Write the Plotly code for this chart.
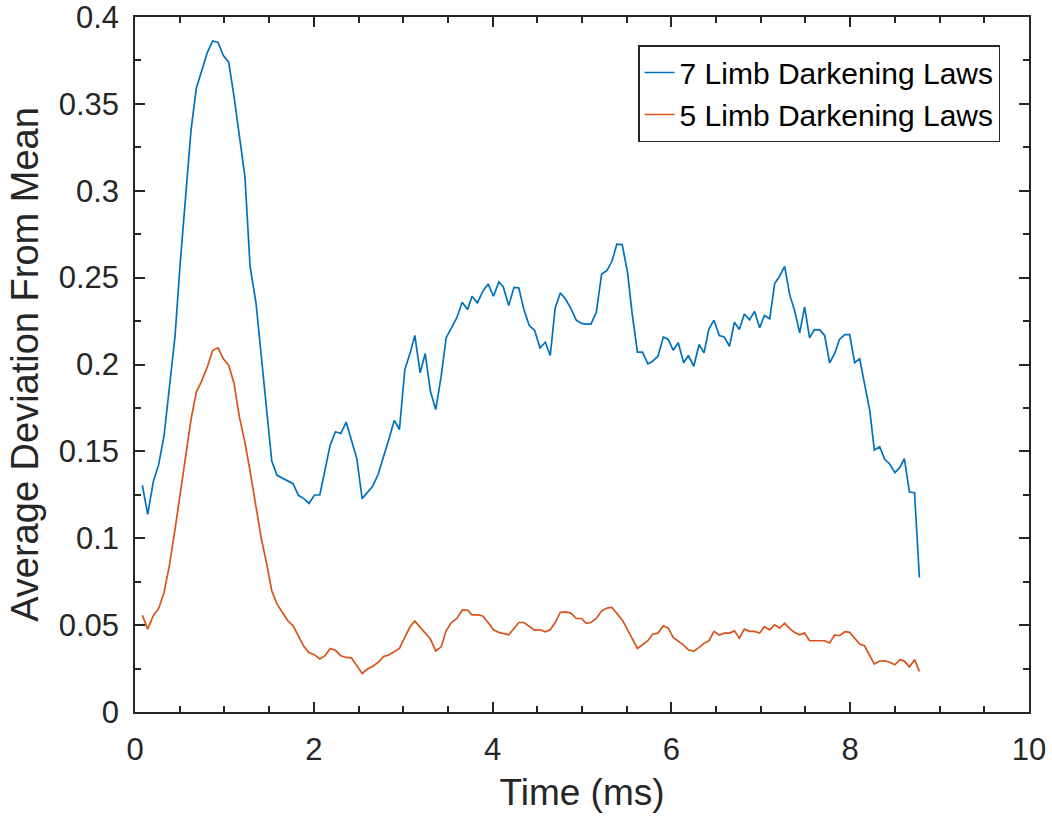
import plotly.graph_objects as go

time_ms = [0.082, 0.142, 0.205, 0.265, 0.325, 0.384, 0.448, 0.505, 0.567, 0.627,
           0.686, 0.745, 0.81, 0.868, 0.929, 0.988, 1.048, 1.108, 1.166, 1.23,
           1.287, 1.354, 1.414, 1.474, 1.53, 1.589, 1.649, 1.709, 1.768, 1.828,
           1.888, 1.947, 2.007, 2.067, 2.127, 2.182, 2.242, 2.302, 2.362, 2.421,
           2.481, 2.541, 2.60, 2.66, 2.72, 2.78, 2.839, 2.90, 2.958, 3.018,
           3.078, 3.13, 3.19, 3.246, 3.304, 3.364, 3.425, 3.48, 3.539, 3.60,
           3.66, 3.72, 3.77, 3.83, 3.89, 3.95, 4.01, 4.07, 4.12, 4.18,
           4.24, 4.293, 4.35, 4.41, 4.47, 4.53, 4.59, 4.645, 4.70, 4.757,
           4.816, 4.876, 4.936, 4.995, 5.048, 5.10, 5.16, 5.22, 5.28, 5.335,
           5.39, 5.45, 5.51, 5.56, 5.62, 5.677, 5.737, 5.79, 5.85, 5.91,
           5.965, 6.02, 6.077, 6.137, 6.19, 6.25, 6.31, 6.365, 6.42, 6.476,
           6.536, 6.59, 6.65, 6.705, 6.76, 6.816, 6.874, 6.93, 6.987, 7.04,
           7.10, 7.155, 7.21, 7.267, 7.323, 7.38, 7.435, 7.49, 7.546, 7.60,
           7.66, 7.714, 7.77, 7.826, 7.88, 7.94, 7.994, 8.05, 8.106, 8.16,
           8.22, 8.27, 8.33, 8.386, 8.44, 8.50, 8.554, 8.606, 8.663, 8.72,
           8.774]

laws7 = [0.1305, 0.1138, 0.1326, 0.1425, 0.159, 0.1876, 0.2163, 0.258, 0.2987, 0.335,
         0.359, 0.3695, 0.3797, 0.3862, 0.3854, 0.3778, 0.374, 0.3542, 0.3312, 0.308,
         0.2565, 0.2352, 0.2042, 0.1734, 0.1444, 0.1362, 0.1345, 0.1332, 0.1314, 0.1247,
         0.1228, 0.1201, 0.1249, 0.1249, 0.1406, 0.1534, 0.1613, 0.1603, 0.1669, 0.1569,
         0.1458, 0.1228, 0.1262, 0.1301, 0.1368, 0.1464, 0.1569, 0.1678, 0.1626, 0.1971,
         0.2067, 0.2167, 0.1952, 0.2063, 0.1847, 0.1741, 0.1933, 0.2153, 0.2211, 0.2269,
         0.2358, 0.2316, 0.2393, 0.2355, 0.2421, 0.2464, 0.2393, 0.2475, 0.2446, 0.2339,
         0.2444, 0.2441, 0.2316, 0.2224, 0.2197, 0.2096, 0.2128, 0.2052, 0.2326, 0.2412,
         0.2377, 0.2322, 0.2255, 0.2237, 0.2233, 0.2233, 0.2301, 0.2521, 0.2542, 0.2594,
         0.2693, 0.269, 0.2527, 0.2297, 0.2071, 0.2071, 0.2004, 0.2019, 0.2048, 0.2159,
         0.2144, 0.2082, 0.2125, 0.201, 0.2052, 0.199, 0.2115, 0.2067, 0.2205, 0.2255,
         0.2167, 0.2159, 0.2105, 0.2243, 0.2201, 0.2291, 0.2257, 0.2306, 0.2211, 0.2282,
         0.2263, 0.2466, 0.2508, 0.2565, 0.2402, 0.2306, 0.2182, 0.2332, 0.2153, 0.2201,
         0.2199, 0.2167, 0.201, 0.2063, 0.2144, 0.2172, 0.2172, 0.201, 0.2033, 0.1885,
         0.1732, 0.1508, 0.1527, 0.1454, 0.1429, 0.1378, 0.1406, 0.1458, 0.1266, 0.1262,
         0.0774]

laws5 = [0.0557, 0.0477, 0.0554, 0.0596, 0.0688, 0.0841, 0.1052, 0.1262, 0.1473, 0.1684,
         0.1841, 0.1904, 0.1987, 0.208, 0.2096, 0.2033, 0.1996, 0.1891, 0.1703, 0.155,
         0.1387, 0.1186, 0.0994, 0.0851, 0.0697, 0.0621, 0.0573, 0.0525, 0.0496, 0.0435,
         0.0378, 0.0341, 0.033, 0.0305, 0.0324, 0.0366, 0.0355, 0.0324, 0.0314, 0.0312,
         0.0263, 0.0222, 0.0247, 0.0263, 0.0286, 0.032, 0.0328, 0.0347, 0.0366, 0.0429,
         0.0492, 0.0523, 0.0487, 0.0458, 0.042, 0.0352, 0.0375, 0.0467, 0.0515, 0.0538,
         0.0586, 0.0586, 0.0559, 0.0559, 0.0553, 0.0515, 0.0473, 0.0458, 0.0452, 0.0444,
         0.0481, 0.0515, 0.0515, 0.0492, 0.0471, 0.0473, 0.0462, 0.0473, 0.0515, 0.0573,
         0.0576, 0.0569, 0.0538, 0.0538, 0.051, 0.0515, 0.0538, 0.0582, 0.0598, 0.0602,
         0.0567, 0.053, 0.0473, 0.042, 0.0366, 0.0387, 0.041, 0.0448, 0.0454, 0.0496,
         0.0483, 0.0429, 0.0406, 0.0385, 0.0358, 0.0349, 0.0372, 0.0395, 0.041, 0.0464,
         0.0443, 0.0454, 0.0454, 0.0467, 0.0425, 0.0477, 0.0464, 0.0464, 0.0454, 0.049,
         0.0473, 0.0502, 0.0483, 0.0511, 0.048, 0.0458, 0.0444, 0.0454, 0.041, 0.041,
         0.041, 0.041, 0.0397, 0.0443, 0.0439, 0.0462, 0.0458, 0.0424, 0.0391, 0.0381,
         0.0324, 0.0276, 0.0293, 0.0295, 0.0286, 0.0272, 0.0301, 0.0293, 0.026, 0.0301,
         0.0234]

series_names = ["7 Limb Darkening Laws", "5 Limb Darkening Laws"]
colors = ["#0072BD", "#D95319"]

AX = "#262626"
FONT = "Liberation Sans, Arial, Helvetica, sans-serif"

fig = go.Figure()
for name, vals, col in zip(series_names, [laws7, laws5], colors):
    fig.add_trace(go.Scatter(x=time_ms, y=vals, mode="lines", name=name,
                             line=dict(color=col, width=1.7)))

axis_common = dict(showgrid=False, zeroline=False, showline=True, linecolor=AX,
                   linewidth=1.5, mirror="allticks", ticks="inside", ticklen=10,
                   tickwidth=1.5, tickcolor=AX, ticklabeloverflow="allow",
                   automargin=False,
                   tickfont=dict(family=FONT, size=31, color=AX))

fig.update_layout(
    width=1052, height=816,
    margin=dict(l=135, r=23, t=17, b=104),
    paper_bgcolor="white", plot_bgcolor="white",
    font=dict(family=FONT, color=AX),
    xaxis=dict(range=[0, 10.0001], dtick=2, tick0=0,
               minor=dict(dtick=0.5, ticks="inside", ticklen=6, tickwidth=1.5, tickcolor=AX),
               title=dict(text="Time (ms)", font=dict(family=FONT, size=37, color=AX), standoff=13),
               ticklabelstandoff=9,
               **axis_common),
    yaxis=dict(range=[0, 0.40001], dtick=0.05, tick0=0,
               minor=dict(dtick=0.025, ticks="inside", ticklen=6, tickwidth=1.5, tickcolor=AX),
               title=dict(text="Average Deviation From Mean", font=dict(family=FONT, size=38, color=AX), standoff=8),
               ticklabelstandoff=8,
               **axis_common),
    legend=dict(x=0.9676, y=0.9597, xanchor="right", yanchor="top",
                bgcolor="white", bordercolor=AX, borderwidth=1.5,
                font=dict(family=FONT, size=30, color="black"),
                tracegroupgap=0, itemwidth=30),
    showlegend=True,
)

fig.write_html("out.html", config={"displayModeBar": False},
               post_script="document.body.style.margin='0';document.body.style.overflow='hidden';")
